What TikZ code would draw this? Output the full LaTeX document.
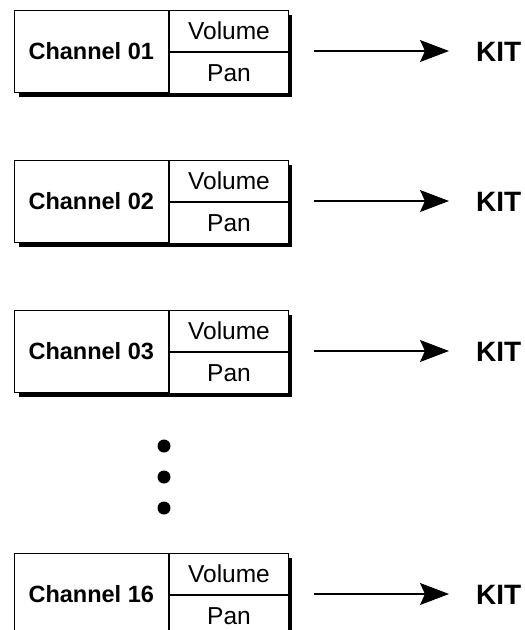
\documentclass[tikz,border=0pt]{standalone}
\usepackage{fontspec}
\setmainfont{Liberation Sans}
\usetikzlibrary{arrows.meta}
\begin{document}
\begin{tikzpicture}[x=1pt,y=-1pt,
  cell/.style={draw, fill=white, line width=1pt, inner sep=0pt, anchor=north west},
  chan/.style={cell, minimum width=154.5pt, minimum height=82pt, font=\fontsize{23.5}{23.5}\selectfont\bfseries},
  sub/.style={cell, minimum width=119pt, minimum height=41pt, font=\fontsize{24.5}{24.5}\selectfont},
  shadowbox/.style={fill=black},
  kit/.style={font=\fontsize{28}{28}\selectfont\bfseries, inner sep=0pt, anchor=west},
  link/.style={line width=1.2pt, shorten >=27pt, -{Stealth[length=29pt,width=22pt,inset=5pt]}},
  dot/.style={circle, fill=black, inner sep=0pt, minimum size=13pt}]
\useasboundingbox (0,0) rectangle (525,630);
\clip (0,0) rectangle (525,630);
\foreach \n/\y in {01/10,02/160,03/310,16/553}{
  \fill[shadowbox] (18.5,\y+5) rectangle (292,\y+87);
  \node[chan] (chan\n) at (13.5,\y) {Channel \n};
  \node[sub] (vol\n) at (chan\n.north east) {Volume};
  \node[sub] (pan\n) at (vol\n.south west) {Pan};
  \coordinate (src\n) at (314,\y+41);
  \node[kit] (kit\n) at (476,\y+42) {KIT};
  \draw[link] (src\n) -- (src\n -| kit\n.west);
}
\node[dot] (dotA) at (164,446) {};
\node[dot] (dotB) at (164,477) {};
\node[dot] (dotC) at (164,508) {};
\end{tikzpicture}
\end{document}
